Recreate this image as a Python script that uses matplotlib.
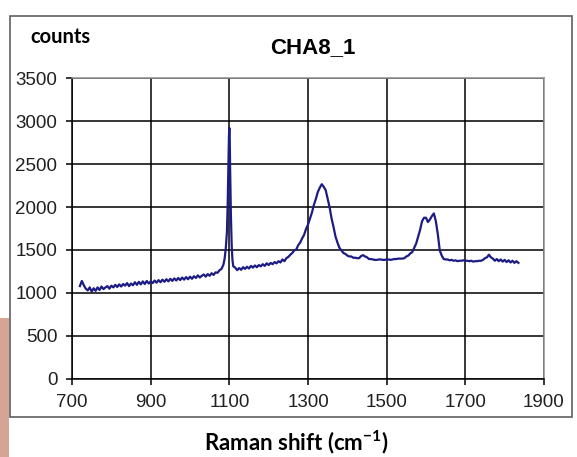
import matplotlib
matplotlib.use('Agg')
import matplotlib.pyplot as plt
from matplotlib.patches import Rectangle

plt.rcParams['font.family'] = ['Liberation Sans', 'DejaVu Sans']
plt.rcParams['mathtext.fontset'] = 'custom'
plt.rcParams['mathtext.rm'] = 'Lato'
plt.rcParams['mathtext.bf'] = 'Lato:bold'

# Raman spectrum (wavenumber, counts)
shift = [
    720, 725, 730, 735, 740, 745, 750, 755, 760, 765, 770, 775, 780, 785, 790, 795,
    800, 805, 810, 815, 820, 825, 830, 835, 840, 845, 850, 855, 860, 865, 870, 875,
    880, 885, 890, 895, 900, 905, 910, 915, 920, 925, 930, 935, 940, 945, 950, 955,
    960, 965, 970, 975, 980, 985, 990, 995, 1000, 1005, 1010, 1015, 1020, 1025, 1030,
    1035, 1040, 1045, 1050, 1055, 1060, 1065, 1070, 1075, 1080, 1085, 1088, 1091, 1094,
    1096, 1098, 1099, 1100, 1101, 1102, 1104, 1106, 1108, 1110, 1115, 1120, 1125, 1130,
    1135, 1140, 1145, 1150, 1155, 1160, 1165, 1170, 1175, 1180, 1185, 1190, 1195, 1200,
    1205, 1210, 1215, 1220, 1225, 1230, 1235, 1240, 1245, 1250, 1255, 1260, 1265, 1270,
    1275, 1280, 1285, 1290, 1295, 1300, 1305, 1310, 1315, 1320, 1325, 1330, 1335, 1340,
    1345, 1350, 1355, 1360, 1365, 1370, 1375, 1380, 1385, 1390, 1395, 1400, 1405, 1410,
    1415, 1420, 1425, 1430, 1435, 1440, 1445, 1450, 1455, 1460, 1465, 1470, 1475, 1480,
    1485, 1490, 1495, 1500, 1505, 1510, 1515, 1520, 1525, 1530, 1535, 1540, 1545, 1550,
    1555, 1560, 1565, 1570, 1575, 1580, 1585, 1590, 1595, 1600, 1605, 1610, 1615, 1620,
    1625, 1630, 1635, 1640, 1645, 1650, 1655, 1660, 1665, 1670, 1675, 1680, 1685, 1690,
    1695, 1700, 1705, 1710, 1715, 1720, 1725, 1730, 1735, 1740, 1745, 1750, 1755, 1760,
    1765, 1770, 1775, 1780, 1785, 1790, 1795, 1800, 1805, 1810, 1815, 1820, 1825, 1830,
    1835,
]
counts = [
    1080, 1140, 1090, 1050, 1030, 1065, 1015, 1055, 1025, 1065, 1035, 1075, 1045, 1065, 1080, 1050,
    1085, 1065, 1095, 1070, 1100, 1075, 1105, 1085, 1115, 1080, 1110, 1090, 1125, 1095, 1130, 1100,
    1135, 1105, 1140, 1110, 1135, 1115, 1145, 1120, 1150, 1125, 1155, 1130, 1160, 1135, 1165, 1140,
    1170, 1145, 1175, 1150, 1180, 1155, 1185, 1160, 1190, 1165, 1195, 1175, 1205, 1180, 1200,
    1215, 1190, 1220, 1200, 1230, 1210, 1240, 1235, 1265, 1280, 1330, 1400, 1520, 1720,
    2080, 2580, 2820, 2920, 2800, 2450, 1900, 1550, 1380, 1310, 1295, 1265, 1290, 1270,
    1300, 1280, 1305, 1285, 1315, 1295, 1320, 1300, 1325, 1310, 1335, 1315, 1345, 1325,
    1350, 1335, 1360, 1345, 1370, 1355, 1390, 1370, 1405, 1420, 1445, 1465, 1495, 1505,
    1555, 1585, 1635, 1675, 1745, 1795, 1865, 1935, 2025, 2095, 2175, 2225, 2265, 2235,
    2195, 2095, 1995, 1865, 1765, 1655, 1585, 1525, 1495, 1465, 1455, 1435, 1425, 1425,
    1410, 1410, 1405, 1405, 1430, 1440, 1425, 1415, 1395, 1395, 1390, 1385, 1385, 1390,
    1390, 1385, 1385, 1390, 1390, 1385, 1390, 1395, 1395, 1400, 1400, 1400, 1405, 1425,
    1435, 1460, 1475, 1525, 1575, 1655, 1735, 1835, 1875, 1875, 1825, 1855, 1895, 1925,
    1835, 1685, 1495, 1435, 1395, 1390, 1390, 1380, 1385, 1375, 1380, 1370, 1375, 1375,
    1380, 1375, 1375, 1370, 1375, 1365, 1370, 1370, 1375, 1375, 1385, 1405, 1415, 1445,
    1415, 1400, 1375, 1395, 1370, 1390, 1365, 1385, 1360, 1380, 1355, 1375, 1350, 1370,
    1350,
]

x_ticks = [700, 900, 1100, 1300, 1500, 1700, 1900]
y_ticks = [0, 500, 1000, 1500, 2000, 2500, 3000, 3500]

fig = plt.figure(figsize=(5.77, 4.57), dpi=100)

# outer chart frame and the tan strip at the left edge
fig.patches.append(Rectangle((0.0173, 0.0875), 0.974, 0.8775, transform=fig.transFigure,
                             fill=False, edgecolor='#606060', lw=1.2))
fig.patches.append(Rectangle((0.0, 0.0), 0.016, 0.304, transform=fig.transFigure,
                             facecolor='#d4a594', edgecolor='none'))

ax = fig.add_axes([0.1248, 0.1707, 0.818, 0.6586])
ax.plot(shift, counts, color='#1c1c84', lw=1.6)

ax.set_xlim(700, 1900)
ax.set_ylim(0, 3500)
ax.set_xticks(x_ticks)
ax.set_yticks(y_ticks)
ax.grid(True, color='black', lw=1.1)
ax.set_axisbelow(True)
for s in ['left', 'bottom']:
    ax.spines[s].set_color('black')
    ax.spines[s].set_linewidth(1.1)
for s in ['top', 'right']:
    ax.spines[s].set_color('#909090')
    ax.spines[s].set_linewidth(1.1)
ax.tick_params(direction='out', length=4.5, width=1.1, labelsize=13.5, pad=6,
               labelcolor='#202020')

fig.text(0.543, 0.884, 'CHA8_1', ha='center', va='baseline', fontsize=16, fontweight='bold')
fig.text(0.053, 0.906, 'counts', ha='left', va='baseline', fontsize=14.5, fontweight='bold',
         family=['Lato', 'DejaVu Sans'])
fig.text(0.513, 0.015, 'Raman shift (cm$^{\\mathbf{-1}}$)', ha='center', va='baseline',
         fontsize=16, fontweight='bold', family=['Lato', 'DejaVu Sans'])

fig.savefig('out.png', dpi=100)
